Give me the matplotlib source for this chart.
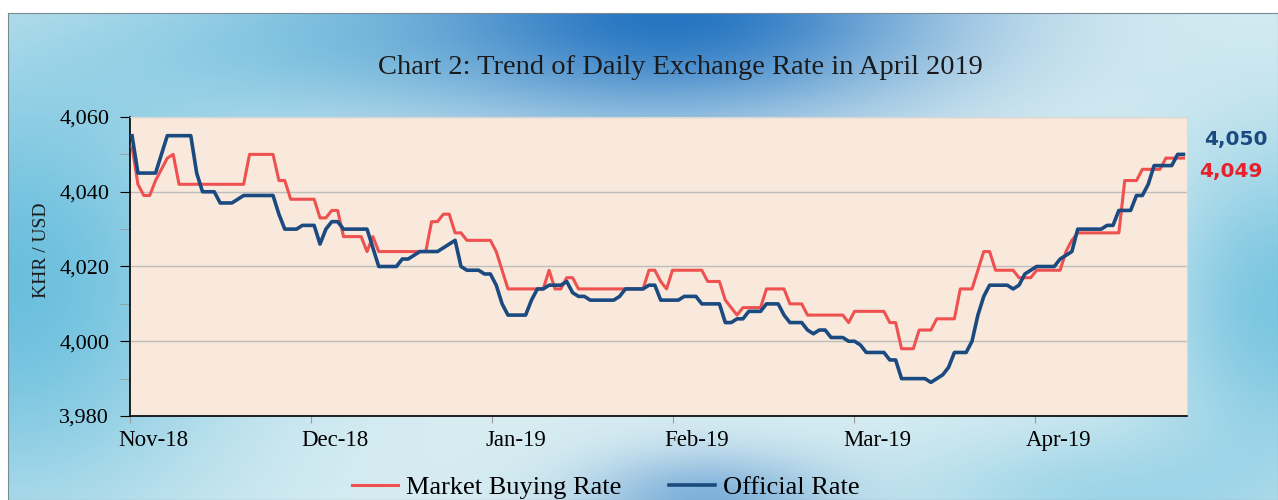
import numpy as np
import matplotlib
matplotlib.use("Agg")
import matplotlib.pyplot as plt
from matplotlib.ticker import MultipleLocator, FuncFormatter, FixedLocator, NullFormatter
from matplotlib.lines import Line2D

# ---------------- data ----------------
month_labels = ["Nov-18", "Dec-18", "Jan-19", "Feb-19", "Mar-19", "Apr-19"]

market_buying = [
    4052, 4042, 4039, 4039, 4043, 4046, 4049, 4050, 4042, 4042,
    4042, 4042, 4042, 4042, 4042, 4042, 4042, 4042, 4042, 4042,
    4050, 4050, 4050, 4050, 4050, 4043, 4043, 4038, 4038, 4038,
    4038, 4038, 4033, 4033, 4035, 4035, 4028, 4028, 4028, 4028,
    4024, 4028, 4024, 4024, 4024, 4024, 4024, 4024, 4024, 4024,
    4024, 4032, 4032, 4034, 4034, 4029, 4029, 4027, 4027, 4027,
    4027, 4027, 4024, 4019, 4014, 4014, 4014, 4014, 4014, 4014,
    4014, 4019, 4014, 4014, 4017, 4017, 4014, 4014, 4014, 4014,
    4014, 4014, 4014, 4014, 4014, 4014, 4014, 4014, 4019, 4019,
    4016, 4014, 4019, 4019, 4019, 4019, 4019, 4019, 4016, 4016,
    4016, 4011, 4009, 4007, 4009, 4009, 4009, 4009, 4014, 4014,
    4014, 4014, 4010, 4010, 4010, 4007, 4007, 4007, 4007, 4007,
    4007, 4007, 4005, 4008, 4008, 4008, 4008, 4008, 4008, 4005,
    4005, 3998, 3998, 3998, 4003, 4003, 4003, 4006, 4006, 4006,
    4006, 4014, 4014, 4014, 4019, 4024, 4024, 4019, 4019, 4019,
    4019, 4017, 4017, 4017, 4019, 4019, 4019, 4019, 4019, 4024,
    4027, 4029, 4029, 4029, 4029, 4029, 4029, 4029, 4029, 4043,
    4043, 4043, 4046, 4046, 4046, 4046, 4049, 4049, 4049, 4049,
]

official_rate = [
    4055, 4045, 4045, 4045, 4045, 4050, 4055, 4055, 4055, 4055,
    4055, 4045, 4040, 4040, 4040, 4037, 4037, 4037, 4038, 4039,
    4039, 4039, 4039, 4039, 4039, 4034, 4030, 4030, 4030, 4031,
    4031, 4031, 4026, 4030, 4032, 4032, 4030, 4030, 4030, 4030,
    4030, 4025, 4020, 4020, 4020, 4020, 4022, 4022, 4023, 4024,
    4024, 4024, 4024, 4025, 4026, 4027, 4020, 4019, 4019, 4019,
    4018, 4018, 4015, 4010, 4007, 4007, 4007, 4007, 4011, 4014,
    4014, 4015, 4015, 4015, 4016, 4013, 4012, 4012, 4011, 4011,
    4011, 4011, 4011, 4012, 4014, 4014, 4014, 4014, 4015, 4015,
    4011, 4011, 4011, 4011, 4012, 4012, 4012, 4010, 4010, 4010,
    4010, 4005, 4005, 4006, 4006, 4008, 4008, 4008, 4010, 4010,
    4010, 4007, 4005, 4005, 4005, 4003, 4002, 4003, 4003, 4001,
    4001, 4001, 4000, 4000, 3999, 3997, 3997, 3997, 3997, 3995,
    3995, 3990, 3990, 3990, 3990, 3990, 3989, 3990, 3991, 3993,
    3997, 3997, 3997, 4000, 4007, 4012, 4015, 4015, 4015, 4015,
    4014, 4015, 4018, 4019, 4020, 4020, 4020, 4020, 4022, 4023,
    4024, 4030, 4030, 4030, 4030, 4030, 4031, 4031, 4035, 4035,
    4035, 4039, 4039, 4042, 4047, 4047, 4047, 4047, 4050, 4050,
]

last_official = "4,050"
last_market = "4,049"

# ---------------- styling ----------------
RED = "#EF5050"
BLUE = "#1B4A80"
SERIF = ["Liberation Serif", "DejaVu Serif"]

fig = plt.figure(figsize=(12.78, 5.0), dpi=100)
fig.patch.set_facecolor("white")

# decorative background (approximation of the blue abstract image)
bg = fig.add_axes([8 / 1278, 0, 1 - 8 / 1278, 1 - 13 / 500], zorder=0)
H, W = 240, 620
yy, xx = np.mgrid[0:H, 0:W]
u = xx / W
v = yy / H
base = np.zeros((H, W, 3))
light = np.array([0.85, 0.93, 0.95])
cyan = np.array([0.42, 0.75, 0.87])
deep = np.array([0.15, 0.46, 0.76])
w_deep = np.exp(-(((u - 0.52) / 0.22) ** 2 + ((v - 0.0) / 0.22) ** 2))
w_deep += 0.5 * np.exp(-(((u - 0.55) / 0.10) ** 2 + ((v - 1.0) / 0.10) ** 2))
w_cyan = np.exp(-(((u - 0.0) / 0.18) ** 2 + ((v - 0.55) / 0.5) ** 2))
w_cyan += 0.85 * np.exp(-(((u - 1.0) / 0.10) ** 2 + ((v - 0.6) / 0.35) ** 2))
w_cyan += 0.6 * np.exp(-(((u - 0.25) / 0.18) ** 2 + ((v - 0.05) / 0.18) ** 2))
w_cyan += 0.5 * np.exp(-(((u - 0.85) / 0.15) ** 2 + ((v - 1.0) / 0.15) ** 2))
w_deep = np.clip(w_deep, 0, 1)
w_cyan = np.clip(w_cyan, 0, 1) * (1 - w_deep)
w_light = np.clip(1 - w_deep - w_cyan, 0, 1)
for c in range(3):
    base[..., c] = w_light * light[c] + w_cyan * cyan[c] + w_deep * deep[c]
bg.imshow(base, aspect="auto", extent=[0, 1, 0, 1], origin="upper")
bg.set_xlim(0, 1)
bg.set_ylim(0, 1)
for s in bg.spines.values():
    s.set_color("#7a8a95")
    s.set_linewidth(0.8)
bg.set_xticks([])
bg.set_yticks([])

# main axes
ax = fig.add_axes([130 / 1278, 1 - 416 / 500, (1187 - 130) / 1278, (416 - 117) / 500], zorder=2)
ax.set_facecolor("#F8E9DC")

x = np.arange(len(official_rate))
ax.plot(x, market_buying, color=RED, lw=2.2, zorder=3, solid_joinstyle="round")
ax.plot(x, official_rate, color=BLUE, lw=2.6, zorder=4, solid_joinstyle="round")

ax.set_ylim(3980, 4060)
ax.set_xlim(-0.35, len(official_rate) - 0.4)
ax.yaxis.set_major_locator(MultipleLocator(20))
ax.yaxis.set_minor_locator(MultipleLocator(10))
ax.yaxis.set_major_formatter(FuncFormatter(lambda val, p: f"{int(val):,}"))
ax.grid(axis="y", which="major", color="#BDBDBD", lw=1.0, zorder=1)
ax.set_axisbelow(True)

# month boundary ticks (major, unlabeled) and month labels (minor, no tick mark)
month_step = 30.8
tick_pos = np.arange(len(month_labels)) * month_step - 0.3
label_shift = 4.0
ax.xaxis.set_major_locator(FixedLocator(tick_pos))
ax.xaxis.set_major_formatter(NullFormatter())
ax.xaxis.set_minor_locator(FixedLocator(tick_pos + label_shift))
ax.set_xticklabels(month_labels, minor=True, fontfamily=SERIF, fontsize=16.5)
ax.tick_params(axis="x", which="major", length=5, color="#9a9a9a", direction="out")
ax.tick_params(axis="x", which="minor", length=0, pad=10)
ax.tick_params(axis="y", which="major", length=7, color="black", labelsize=16, pad=8)
ax.tick_params(axis="y", which="minor", length=7, color="#9a9a9a")
for lab in ax.get_yticklabels():
    lab.set_fontfamily(SERIF)

ax.spines["left"].set_color("black")
ax.spines["bottom"].set_color("black")
ax.spines["left"].set_linewidth(1.2)
ax.spines["bottom"].set_linewidth(1.2)
ax.spines["top"].set_color("#d8d8d8")
ax.spines["right"].set_color("#d8d8d8")

fig.text(42 / 1278, 1 - 250 / 500, "KHR / USD", rotation=90, ha="center", va="center",
         fontfamily=SERIF, fontsize=14, color="#1a1a1a")

fig.text(680 / 1278, 1 - 68 / 500, "Chart 2: Trend of Daily Exchange Rate in April 2019",
         ha="center", va="center", fontfamily=SERIF, fontsize=20.5, color="#1a1a1a")

fig.text(1236 / 1278, 1 - 140 / 500, last_official, ha="center", va="center",
         fontfamily="DejaVu Sans", fontweight="bold", fontsize=14.5, color=BLUE)
fig.text(1231 / 1278, 1 - 172 / 500, last_market, ha="center", va="center",
         fontfamily="DejaVu Sans", fontweight="bold", fontsize=14.5, color="#E8202A")

handles = [Line2D([], [], color=RED, lw=2.2), Line2D([], [], color=BLUE, lw=2.6)]
fig.legend(handles, ["Market Buying Rate", "Official Rate"], loc="center",
           bbox_to_anchor=(606 / 1278, 1 - 487 / 500), ncol=2, frameon=False,
           prop={"family": SERIF, "size": 19}, handlelength=1.75, handletextpad=0.3,
           columnspacing=1.8, borderpad=0.0)

fig.savefig("out.png", dpi=100)
